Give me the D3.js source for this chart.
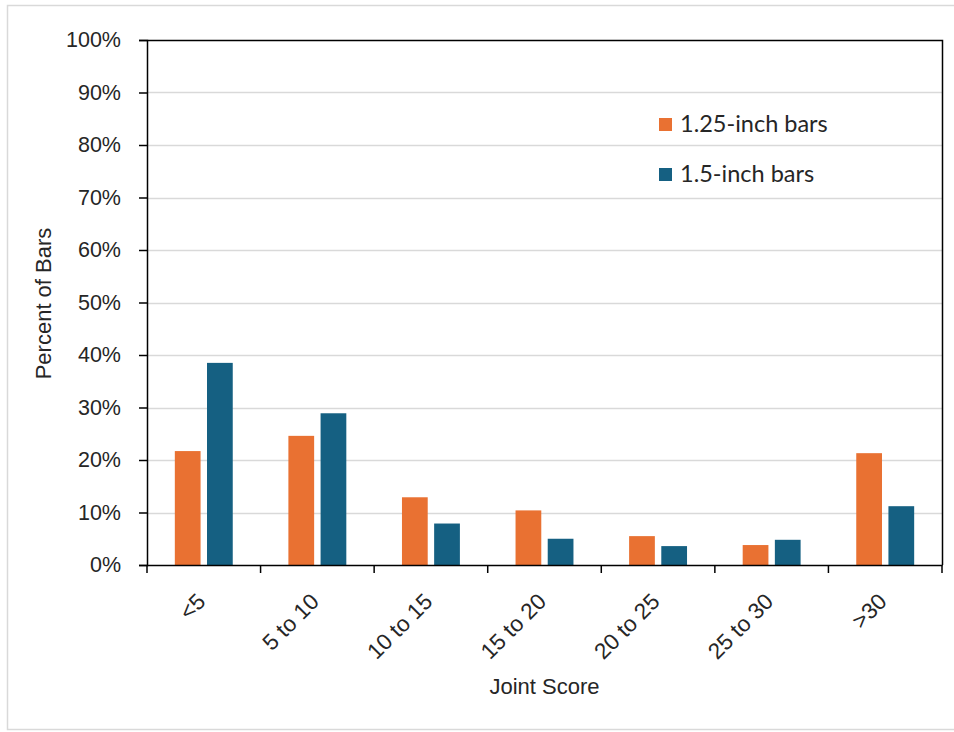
<!DOCTYPE html>
<html>
<head>
<meta charset="utf-8">
<script src="https://cdn.jsdelivr.net/npm/d3@7"></script>
<style>
  html, body { margin: 0; padding: 0; background: #fff; }
  svg { display: block; }
</style>
</head>
<body>
<div id="chart"></div>
<script>
// Joint score bins and the share of bars falling in each, per bar size
const categories = ["<5", "5 to 10", "10 to 15", "15 to 20", "20 to 25", "25 to 30", ">30"];
const seriesNames = ["1.25-inch bars", "1.5-inch bars"];
const bars125 = [0.217, 0.246, 0.129, 0.104, 0.055, 0.038, 0.213];
const bars150 = [0.385, 0.289, 0.079, 0.050, 0.036, 0.048, 0.112];
const yTicks = [0, 0.1, 0.2, 0.3, 0.4, 0.5, 0.6, 0.7, 0.8, 0.9, 1.0];
const colors = ["#E97132", "#156082"];

const W = 954, H = 732;
const plot = { left: 147, right: 942, top: 40, bottom: 565 };
const sans = "'Liberation Sans', Arial, sans-serif";

const svg = d3.select("#chart").append("svg")
  .attr("width", W).attr("height", H);

// outer chart frame
svg.append("rect")
  .attr("x", 7.5).attr("y", 5.5)
  .attr("width", W + 10).attr("height", 724)
  .attr("fill", "#fff").attr("stroke", "#d9d9d9").attr("stroke-width", 1.5);

const x0 = d3.scaleBand()
  .domain(categories)
  .range([plot.left, plot.right])
  .paddingInner(0.49)
  .paddingOuter(0.245);

const x1 = d3.scaleBand()
  .domain(seriesNames)
  .range([0, x0.bandwidth()])
  .paddingInner(0.2);

const y = d3.scaleLinear().domain([0, 1]).range([plot.bottom, plot.top]);

// horizontal gridlines
svg.append("g")
  .selectAll("line")
  .data(yTicks.filter(d => d > 0 && d < 1))
  .join("line")
  .attr("x1", plot.left).attr("x2", plot.right)
  .attr("y1", d => Math.round(y(d)) + 0.5).attr("y2", d => Math.round(y(d)) + 0.5)
  .attr("stroke", "#d9d9d9").attr("stroke-width", 1.5);

// bars
const rows = categories.map((c, i) => ({ cat: c, vals: [bars125[i], bars150[i]] }));
const groups = svg.append("g").selectAll("g")
  .data(rows)
  .join("g")
  .attr("transform", d => `translate(${x0(d.cat)},0)`);

groups.selectAll("rect")
  .data(d => d.vals.map((v, k) => ({ name: seriesNames[k], v, k })))
  .join("rect")
  .attr("x", d => x1(d.name))
  .attr("width", x1.bandwidth())
  .attr("y", d => y(d.v))
  .attr("height", d => y(0) - y(d.v))
  .attr("fill", d => colors[d.k]);

// plot frame: top and right edges
svg.append("path")
  .attr("d", `M${plot.left},${plot.top + 0.5}H${plot.right + 0.5}V${plot.bottom}`)
  .attr("fill", "none").attr("stroke", "#000").attr("stroke-width", 1.5);

// y axis
const yAxis = d3.axisLeft(y)
  .tickValues(yTicks)
  .tickFormat(d3.format(".0%"))
  .tickSize(8)
  .tickPadding(18);

const gy = svg.append("g")
  .attr("transform", `translate(${plot.left},0)`)
  .call(yAxis);
gy.select(".domain").attr("stroke", "#000").attr("stroke-width", 1.5);
gy.selectAll(".tick line").attr("stroke", "#000").attr("stroke-width", 1.5);
gy.selectAll(".tick text")
  .attr("fill", "#262626")
  .style("font-family", sans)
  .style("font-size", "21.5px");

// x axis: ticks at category boundaries
const bounds = d3.range(categories.length + 1).map(i => plot.left + i * x0.step());
const gx = svg.append("g");
gx.append("line")
  .attr("x1", plot.left).attr("x2", plot.right + 0.5)
  .attr("y1", plot.bottom + 0.5).attr("y2", plot.bottom + 0.5)
  .attr("stroke", "#000").attr("stroke-width", 1.5);
gx.selectAll("line.tk")
  .data(bounds)
  .join("line")
  .attr("class", "tk")
  .attr("x1", d => d).attr("x2", d => d)
  .attr("y1", plot.bottom).attr("y2", plot.bottom + 8)
  .attr("stroke", "#000").attr("stroke-width", 1.5);
gx.selectAll("text")
  .data(categories)
  .join("text")
  .attr("transform", d => `translate(${x0(d) + x0.bandwidth() / 2 + 3},${plot.bottom + 38}) rotate(-45)`)
  .attr("text-anchor", "end")
  .attr("fill", "#262626")
  .style("font-family", sans)
  .style("font-size", "22.5px")
  .text(d => d);

// axis titles
svg.append("text")
  .attr("transform", `translate(51,${(plot.top + plot.bottom) / 2 + 1}) rotate(-90)`)
  .attr("text-anchor", "middle")
  .attr("fill", "#262626")
  .style("font-family", sans)
  .style("font-size", "22px")
  .text("Percent of Bars");

svg.append("text")
  .attr("x", (plot.left + plot.right) / 2)
  .attr("y", 694)
  .attr("text-anchor", "middle")
  .attr("fill", "#262626")
  .style("font-family", sans)
  .style("font-size", "22px")
  .text("Joint Score");

// legend
const legend = svg.append("g").attr("transform", "translate(659,118)");
const items = legend.selectAll("g")
  .data(seriesNames)
  .join("g")
  .attr("transform", (d, i) => `translate(0,${i * 50})`);
items.append("rect")
  .attr("width", 13).attr("height", 13)
  .attr("fill", (d, i) => colors[i]);
items.append("text")
  .attr("x", 21).attr("y", 14)
  .attr("fill", "#262626")
  .style("font-family", "Lato, 'Open Sans', sans-serif")
  .style("font-size", "23.5px")
  .text(d => d);
</script>
</body>
</html>
